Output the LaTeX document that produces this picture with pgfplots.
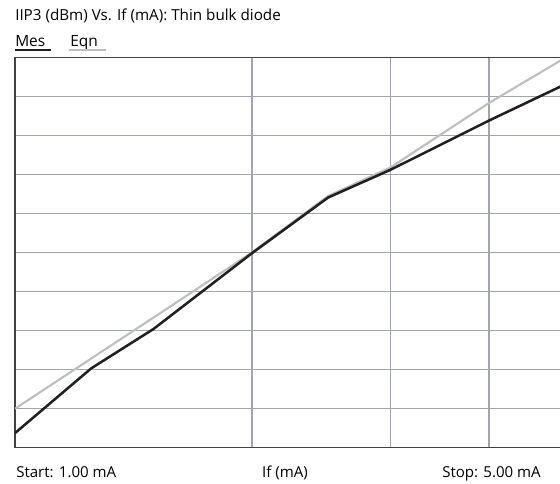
\documentclass[border=0pt]{standalone}
\usepackage{fontspec}
\setmainfont{Open Sans}
\usepackage{pgfplots}
\pgfplotsset{compat=1.18}
\definecolor{mes}{RGB}{35,31,32}
\definecolor{eqn}{RGB}{188,190,192}
\definecolor{gridc}{RGB}{160,166,172}
\definecolor{framec}{RGB}{65,65,65}
\begin{document}
\begin{tikzpicture}[x=0.75pt,y=0.75pt]
\begin{axis}[
  at={(11.25pt,26.625pt)}, anchor=south west,
  scale only axis, width=412.5pt, height=292.5pt,
  xmode=log, xmin=1, xmax=5, ymin=0, ymax=10,
  xtick={2,3,4}, ytick={1,2,3,4,5,6,7,8,9},
  xticklabels={}, yticklabels={},
  major tick length=0pt,
  grid=major, major grid style={gridc, line width=1.2pt},
  axis line style={framec, line width=1.4pt},
  clip=true,
]
\addplot[eqn, line width=1.6pt] coordinates {
(1,0.995) (1.621,3.78) (2,5.0) (2.5,6.45) (3,7.18) (4,8.83) (5,9.99)
};
\addplot[mes, line width=1.9pt] coordinates {
(1,0.37) (1.25,2.03) (1.5,3.04) (2,4.98) (2.5,6.41) (3,7.12) (4,8.38) (5,9.31)
};
\end{axis}
\node[anchor=base west, inner sep=0pt, font=\fontsize{11.4pt}{13pt}\selectfont] at (15,462) {IIP3 (dBm) Vs. If (mA): Thin bulk diode};
\node[anchor=base west, inner sep=0pt, font=\fontsize{11.6pt}{13pt}\selectfont] at (15,436.5) {Mes};
\node[anchor=base west, inner sep=0pt, font=\fontsize{11.6pt}{13pt}\selectfont] at (70,436.5) {Eqn};
\draw[mes, line width=1.5pt] (15,433) -- (51,433);
\draw[eqn, line width=1.5pt] (69,433) -- (106,433);
\node[anchor=base west, inner sep=0pt, font=\fontsize{11.3pt}{13pt}\selectfont] at (16,5.3) {Start: 1.00 mA};
\node[anchor=base, inner sep=0pt, font=\fontsize{11.3pt}{13pt}\selectfont] at (285,5.3) {If (mA)};
\node[anchor=base east, inner sep=0pt, font=\fontsize{11.3pt}{13pt}\selectfont] at (541,5.3) {Stop: 5.00 mA};
\pgfresetboundingbox
\useasboundingbox (0,0) rectangle (560,483);
\end{tikzpicture}
\end{document}
